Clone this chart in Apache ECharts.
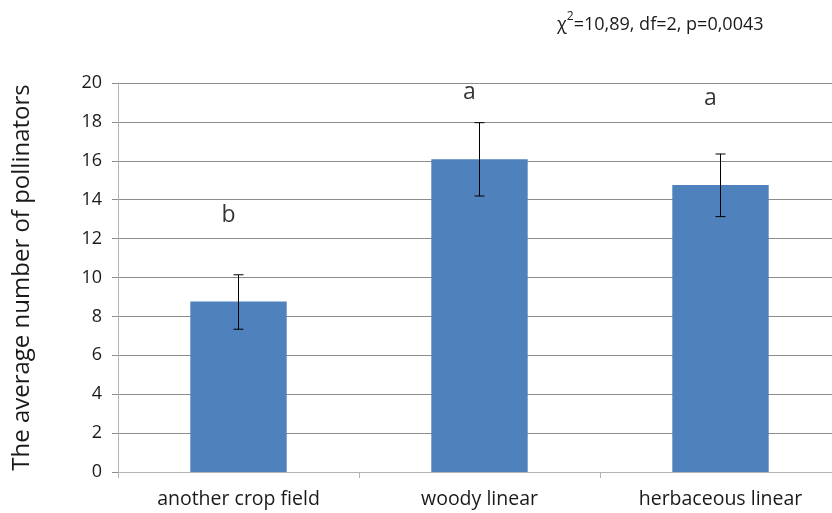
<!DOCTYPE html>
<html><head><meta charset="utf-8">
<script src="https://cdn.jsdelivr.net/npm/echarts@6/dist/echarts.min.js"></script>
<style>html,body{margin:0;padding:0;background:#fff;overflow:hidden}#c{width:842px;height:513px}</style>
</head><body><div id="c"></div>
<script>
const categories = ['another crop field', 'woody linear', 'herbaceous linear'];
const means = [8.76, 16.08, 14.76];
const errLow = [7.34, 14.19, 13.13];
const errHigh = [10.14, 17.96, 16.35];
const sigLetters = ['b', 'a', 'a'];
const letterY = [13.2, 19.5, 19.2];
const yTicks = [0, 2, 4, 6, 8, 10, 12, 14, 16, 18, 20];
const statText = '=10,89, df=2, p=0,0043';

const FONT = '"Open Sans", sans-serif';
const TXT = '#1a1a1a';
const chart = echarts.init(document.getElementById('c'));
chart.setOption({
  animation: false,
  backgroundColor: '#fff',
  grid: { left: 118, top: 83, width: 723, height: 389 },
  graphic: [{
    type: 'text', left: 557, top: 3,
    style: {
      text: '{a|χ}{s|2}{a|' + statText + '}',
      rich: {
        a: { fontFamily: FONT, fontSize: 18, fill: TXT, height: 28, lineHeight: 28, verticalAlign: 'bottom' },
        s: { fontFamily: FONT, fontSize: 12, fill: TXT, height: 28, lineHeight: 28, verticalAlign: 'bottom', padding: [0, 0, 8, 0] }
      }
    }
  }],
  xAxis: {
    type: 'category', data: categories,
    axisLine: { lineStyle: { color: '#B3B3B3', width: 1 } },
    axisTick: { show: true, length: 6, lineStyle: { color: '#B3B3B3' } },
    axisLabel: { color: TXT, fontFamily: FONT, fontSize: 19.5, margin: 17 }
  },
  yAxis: {
    type: 'value', min: yTicks[0], max: yTicks[yTicks.length - 1], interval: 2,
    name: 'The average number of pollinators', nameLocation: 'middle', nameGap: 84,
    nameTextStyle: { color: TXT, fontFamily: FONT, fontSize: 24 },
    axisLine: { show: true, lineStyle: { color: '#B3B3B3' } },
    axisTick: { show: true, length: 6, lineStyle: { color: '#8C8C8C' } },
    axisLabel: { color: TXT, fontFamily: FONT, fontSize: 18, margin: 16 },
    splitLine: { lineStyle: { color: '#8C8C8C', width: 1 } }
  },
  series: [{
    type: 'bar', data: means, barWidth: '40%',
    itemStyle: { color: '#4F81BD' }
  }, {
    type: 'custom',
    data: categories.map((c, i) => [i, errLow[i], errHigh[i]]),
    renderItem: function (params, api) {
      const x = api.value(0);
      const lo = api.coord([x, api.value(1)]);
      const hi = api.coord([x, api.value(2)]);
      const hw = 5;
      const st = { stroke: '#000', lineWidth: 1 };
      return { type: 'group', children: [
        { type: 'line', shape: { x1: lo[0], y1: lo[1], x2: hi[0], y2: hi[1] }, style: st },
        { type: 'line', shape: { x1: lo[0] - hw, y1: lo[1], x2: lo[0] + hw, y2: lo[1] }, style: st },
        { type: 'line', shape: { x1: hi[0] - hw, y1: hi[1], x2: hi[0] + hw, y2: hi[1] }, style: st }
      ]};
    },
    z: 5
  }, {
    type: 'scatter', symbolSize: 0,
    data: categories.map((c, i) => ({ value: [i, letterY[i]], label: { formatter: sigLetters[i] } })),
    label: { show: true, position: 'inside', offset: [-10, 0], fontFamily: FONT, fontSize: 23, color: '#000' },
    z: 6
  }]
});
</script></body></html>
